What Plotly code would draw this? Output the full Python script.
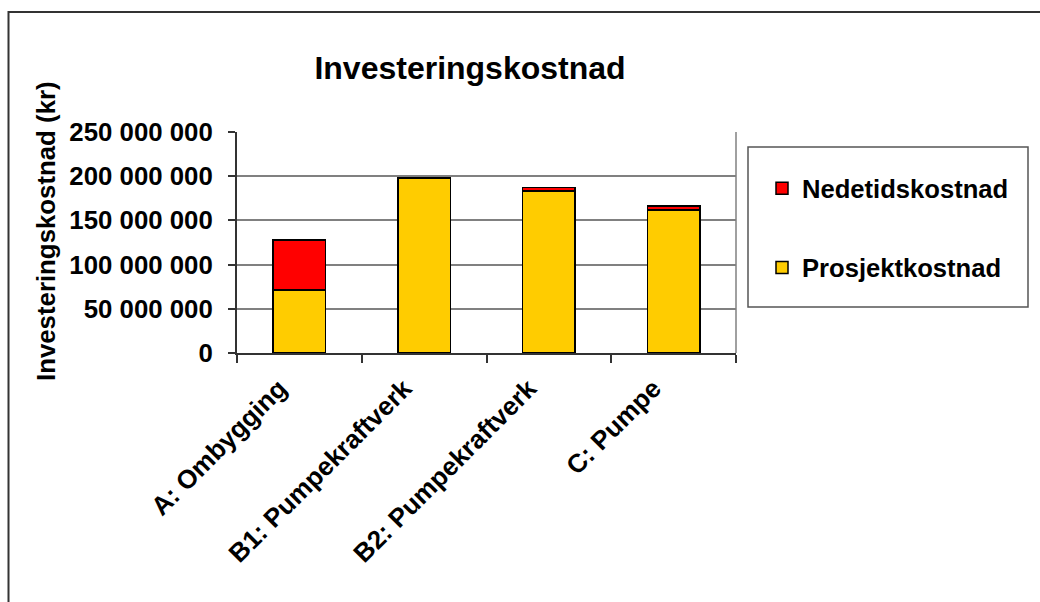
import plotly.graph_objects as go

# Investment cost per alternative (NOK), stacked: project cost + downtime cost
categories = ["A: Ombygging", "B1: Pumpekraftverk", "B2: Pumpekraftverk", "C: Pumpe"]
prosjektkostnad = [71.5e6, 198e6, 183e6, 162e6]
nedetidskostnad = [56.5e6, 0.5e6, 4e6, 4.5e6]

y_tickvals = [0, 50e6, 100e6, 150e6, 200e6, 250e6]
y_ticktext = ["0", "50 000 000", "100 000 000", "150 000 000", "200 000 000", "250 000 000"]

W, H = 1040, 602
L, R, T, B = 237, 736, 132, 353  # plot area edges in pixels

FONT = "Liberation Sans, Arial, sans-serif"


def px(x):
    return (x - L) / (R - L)


def py(y):
    return (B - y) / (B - T)


fig = go.Figure()
fig.add_trace(go.Bar(
    x=categories, y=prosjektkostnad, name="Prosjektkostnad",
    marker=dict(color="#FFCC00", line=dict(color="#000000", width=1.5)),
    legendgroup="p", legendrank=2,
))
fig.add_trace(go.Bar(
    x=categories, y=nedetidskostnad, name="Nedetidskostnad",
    marker=dict(color="#FF0000", line=dict(color="#000000", width=1.5)),
    legendgroup="n", legendrank=1,
))

shapes = [
    # outer chart frame
    dict(type="rect", xref="paper", yref="paper",
         x0=px(8.5), x1=px(1060), y0=py(12), y1=py(640),
         line=dict(color="#333333", width=2), fillcolor="rgba(0,0,0,0)", layer="below"),
    # legend frame
    dict(type="rect", xref="paper", yref="paper",
         x0=px(748), x1=px(1028), y0=py(147), y1=py(307),
         line=dict(color="#555555", width=1.5), fillcolor="rgba(0,0,0,0)"),
    # right edge of plot area
    dict(type="line", xref="paper", yref="paper",
         x0=1, x1=1, y0=0, y1=1, line=dict(color="#808080", width=1.5), layer="below"),
]

fig.update_layout(
    width=W, height=H,
    margin=dict(l=L, r=W - R, t=T, b=H - B, pad=0),
    paper_bgcolor="white", plot_bgcolor="white",
    barmode="stack", bargap=0.58,
    font=dict(family=FONT, color="#000000", size=25, weight="bold"),
    title=dict(text="Investeringskostnad", x=470 / W, xref="container",
               y=1 - 68 / H, yref="container", xanchor="center", yanchor="middle",
               font=dict(family=FONT, size=32, weight="bold", color="#000000")),
    showlegend=True,
    legend=dict(x=px(762), y=py(165), xanchor="left", yanchor="top",
                xref="paper", yref="paper",
                traceorder="grouped", tracegroupgap=43,
                bgcolor="rgba(0,0,0,0)", borderwidth=0,
                font=dict(family=FONT, size=25.6, weight="bold", color="#000000")),
    shapes=shapes,
    annotations=[dict(text="Investeringskostnad (kr)", textangle=-90,
                      xref="paper", yref="paper", x=px(46), y=py(231),
                      xanchor="center", yanchor="middle", showarrow=False,
                      font=dict(family=FONT, size=25.8, weight="bold", color="#000000"))],
)

fig.update_xaxes(
    type="category", showgrid=False, showline=True, linecolor="#333333", linewidth=2,
    ticks="outside", tickson="boundaries", ticklen=8, tickwidth=1.5, tickcolor="#333333",
    tickangle=-45, ticklabelshift=-20, ticklabelstandoff=8,
    tickfont=dict(family=FONT, size=26, weight="bold", color="#000000"),
)
fig.update_yaxes(
    range=[0, 250e6], tickvals=y_tickvals, ticktext=y_ticktext,
    showgrid=True, gridcolor="#808080", gridwidth=1.5,
    showline=True, linecolor="#333333", linewidth=2, zeroline=False,
    ticks="outside", ticklen=7, tickwidth=1.5, tickcolor="#333333",
    ticklabelstandoff=10,
    tickfont=dict(family=FONT, size=25.8, weight="bold", color="#000000"),
)

fig.write_html("out.html")
